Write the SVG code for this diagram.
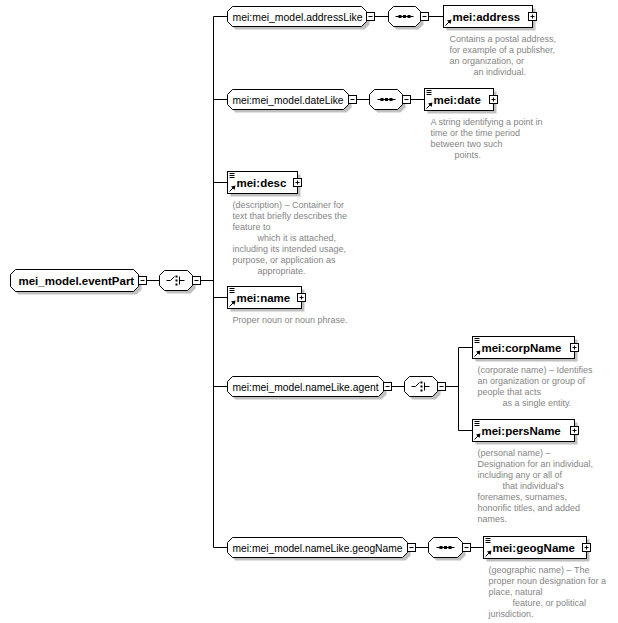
<svg xmlns="http://www.w3.org/2000/svg" width="618" height="623" viewBox="0 0 618 623">
<style>
.ln{fill:none;stroke:#000;stroke-width:1}
.box{fill:#fff;stroke:#000;stroke-width:1}
.sh{fill:#c0c0c0;stroke:none}
.t{font-family:"Liberation Sans",Arial,sans-serif;font-size:10.5px;fill:#000}
.b{font-family:"Liberation Sans",Arial,sans-serif;font-size:11.5px;font-weight:bold;fill:#000}
.d{font-family:"Liberation Sans",Arial,sans-serif;font-size:9px;fill:#858585}
</style>
<defs>
<g id="minus"><rect class="box" x="0" y="-4" width="8" height="8"/><path class="ln" d="M2,0H6"/></g>
<g id="plus"><rect class="box" x="0" y="-4" width="8" height="8"/><path class="ln" d="M2,0H6M4,-2V2"/></g>
<g id="seq"><path class="ln" d="M-9,0H9"/><path d="M-6,0H-3M-1.5,0H1.5M3,0H6" stroke="#000" stroke-width="3" fill="none"/></g>
<g id="choice"><path class="ln" d="M-10,0H-6L-2,-4M3,-4V4M3,0H8"/><path d="M0,-5V-3M0,-1V1M0,3V5" stroke="#000" stroke-width="2" fill="none"/></g>
<g id="doc"><path class="ln" d="M2,2H7M2,4H7M2,6H7"/></g>
<g id="ref"><path class="ln" d="M2,-2L6,-6"/><polygon points="8,-8 3.5,-7 7,-3.5" fill="#000"/></g>
</defs>
<g transform="translate(0.5,0.5)">
<g id="connectors">
<path class="ln" d="M146,280H159M200,280H213M213,16V547M213,16H227M213,99H227M213,182H227M213,297H227M213,386H227M213,547H227M374,16H388M428,16H443M356,99H369M410,99H424M391,386H404M445,386H458M458,347V430M458,347H472M458,430H472M415,547H428M470,547H483"/>
</g>
<g id="eventPart">
<path class="sh" transform="translate(3,3)" d="M15,269H133L138,274V286L133,291H15L10,286V274Z"/>
<path class="box" d="M15,269H133L138,274V286L133,291H15L10,286V274Z"/>
<text class="b" x="18" y="284">mei_model.eventPart</text>
<use href="#minus" x="138" y="280"/>
</g>
<g id="choice1">
<path class="sh" transform="translate(3,3)" d="M164,270H187L192,275V285L187,290H164L159,285V275Z"/>
<path class="box" d="M164,270H187L192,275V285L187,290H164L159,285V275Z"/>
<use href="#choice" x="176" y="280"/>
<use href="#minus" x="192" y="280"/>
</g>
<g id="addressLike">
<path class="sh" transform="translate(3,3)" d="M232,6H361L366,11V21L361,26H232L227,21V11Z"/>
<path class="box" d="M232,6H361L366,11V21L361,26H232L227,21V11Z"/>
<text class="t" x="232" y="20" textLength="130" lengthAdjust="spacingAndGlyphs">mei:mei_model.addressLike</text>
<use href="#minus" x="366" y="16"/>
</g>
<g id="seq1">
<path class="sh" transform="translate(3,3)" d="M393,6H415L420,11V21L415,26H393L388,21V11Z"/>
<path class="box" d="M393,6H415L420,11V21L415,26H393L388,21V11Z"/>
<use href="#seq" x="404" y="16"/>
<use href="#minus" x="420" y="16"/>
</g>
<g id="address">
<rect class="sh" x="446" y="8" width="89" height="22"/>
<rect class="box" x="443" y="5" width="89" height="22"/>
<use href="#ref" x="443" y="27"/>
<text class="b" x="452" y="20">mei:address</text>
<use href="#plus" x="528" y="16"/>
<text class="d" x="449" y="41">Contains a postal address,</text>
<text class="d" x="449" y="52">for example of a publisher,</text>
<text class="d" x="449" y="63">an organization, or</text>
<text class="d" x="473" y="74">an individual.</text>
</g>
<g id="dateLike">
<path class="sh" transform="translate(3,3)" d="M232,89H343L348,94V104L343,109H232L227,104V94Z"/>
<path class="box" d="M232,89H343L348,94V104L343,109H232L227,104V94Z"/>
<text class="t" x="232" y="103" textLength="111" lengthAdjust="spacingAndGlyphs">mei:mei_model.dateLike</text>
<use href="#minus" x="348" y="99"/>
</g>
<g id="seq2">
<path class="sh" transform="translate(3,3)" d="M374,89H397L402,94V104L397,109H374L369,104V94Z"/>
<path class="box" d="M374,89H397L402,94V104L397,109H374L369,104V94Z"/>
<use href="#seq" x="386" y="99"/>
<use href="#minus" x="402" y="99"/>
</g>
<g id="date">
<rect class="sh" x="427" y="91" width="69" height="22"/>
<rect class="box" x="424" y="88" width="69" height="22"/>
<use href="#doc" x="424" y="88"/>
<use href="#ref" x="424" y="110"/>
<text class="b" x="433" y="103">mei:date</text>
<use href="#plus" x="489" y="99"/>
<text class="d" x="430" y="124">A string identifying a point in</text>
<text class="d" x="430" y="135">time or the time period</text>
<text class="d" x="430" y="146">between two such</text>
<text class="d" x="454" y="157">points.</text>
</g>
<g id="desc">
<rect class="sh" x="230" y="174" width="70" height="22"/>
<rect class="box" x="227" y="171" width="70" height="22"/>
<use href="#doc" x="227" y="171"/>
<use href="#ref" x="227" y="193"/>
<text class="b" x="236" y="186">mei:desc</text>
<use href="#plus" x="293" y="182"/>
<text class="d" x="232" y="207">(description) – Container for</text>
<text class="d" x="232" y="218">text that briefly describes the</text>
<text class="d" x="232" y="229">feature to</text>
<text class="d" x="257" y="240">which it is attached,</text>
<text class="d" x="232" y="251">including its intended usage,</text>
<text class="d" x="232" y="262">purpose, or application as</text>
<text class="d" x="257" y="273">appropriate.</text>
</g>
<g id="name">
<rect class="sh" x="230" y="289" width="74" height="22"/>
<rect class="box" x="227" y="286" width="74" height="22"/>
<use href="#doc" x="227" y="286"/>
<use href="#ref" x="227" y="308"/>
<text class="b" x="236" y="301">mei:name</text>
<use href="#plus" x="297" y="297"/>
<text class="d" x="232" y="322">Proper noun or noun phrase.</text>
</g>
<g id="nameLikeAgent">
<path class="sh" transform="translate(3,3)" d="M232,376H378L383,381V391L378,396H232L227,391V381Z"/>
<path class="box" d="M232,376H378L383,381V391L378,396H232L227,391V381Z"/>
<text class="t" x="232" y="390" textLength="146" lengthAdjust="spacingAndGlyphs">mei:mei_model.nameLike.agent</text>
<use href="#minus" x="383" y="386"/>
</g>
<g id="choice2">
<path class="sh" transform="translate(3,3)" d="M409,376H432L437,381V391L432,396H409L404,391V381Z"/>
<path class="box" d="M409,376H432L437,381V391L432,396H409L404,391V381Z"/>
<use href="#choice" x="421" y="386"/>
<use href="#minus" x="437" y="386"/>
</g>
<g id="corpName">
<rect class="sh" x="475" y="339" width="102" height="22"/>
<rect class="box" x="472" y="336" width="102" height="22"/>
<use href="#doc" x="472" y="336"/>
<use href="#ref" x="472" y="358"/>
<text class="b" x="481" y="351">mei:corpName</text>
<use href="#plus" x="570" y="347"/>
<text class="d" x="477" y="372">(corporate name) – Identifies</text>
<text class="d" x="477" y="383">an organization or group of</text>
<text class="d" x="477" y="394">people that acts</text>
<text class="d" x="502" y="405">as a single entity.</text>
</g>
<g id="persName">
<rect class="sh" x="475" y="422" width="102" height="22"/>
<rect class="box" x="472" y="419" width="102" height="22"/>
<use href="#doc" x="472" y="419"/>
<use href="#ref" x="472" y="441"/>
<text class="b" x="481" y="434">mei:persName</text>
<use href="#plus" x="570" y="430"/>
<text class="d" x="477" y="455">(personal name) –</text>
<text class="d" x="477" y="466">Designation for an individual,</text>
<text class="d" x="477" y="477">including any or all of</text>
<text class="d" x="502" y="488">that individual's</text>
<text class="d" x="477" y="499">forenames, surnames,</text>
<text class="d" x="477" y="510">honorific titles, and added</text>
<text class="d" x="477" y="521">names.</text>
</g>
<g id="nameLikeGeogName">
<path class="sh" transform="translate(3,3)" d="M232,537H402L407,542V552L402,557H232L227,552V542Z"/>
<path class="box" d="M232,537H402L407,542V552L402,557H232L227,552V542Z"/>
<text class="t" x="232" y="551" textLength="170" lengthAdjust="spacingAndGlyphs">mei:mei_model.nameLike.geogName</text>
<use href="#minus" x="407" y="547"/>
</g>
<g id="seq3">
<path class="sh" transform="translate(3,3)" d="M433,537H457L462,542V552L457,557H433L428,552V542Z"/>
<path class="box" d="M433,537H457L462,542V552L457,557H433L428,552V542Z"/>
<use href="#seq" x="445" y="547"/>
<use href="#minus" x="462" y="547"/>
</g>
<g id="geogName">
<rect class="sh" x="486" y="539" width="103" height="22"/>
<rect class="box" x="483" y="536" width="103" height="22"/>
<use href="#doc" x="483" y="536"/>
<use href="#ref" x="483" y="558"/>
<text class="b" x="492" y="551">mei:geogName</text>
<use href="#plus" x="582" y="547"/>
<text class="d" x="488" y="572">(geographic name) – The</text>
<text class="d" x="488" y="583">proper noun designation for a</text>
<text class="d" x="488" y="594">place, natural</text>
<text class="d" x="512" y="605">feature, or political</text>
<text class="d" x="488" y="616">jurisdiction.</text>
</g>
</g>
</svg>
